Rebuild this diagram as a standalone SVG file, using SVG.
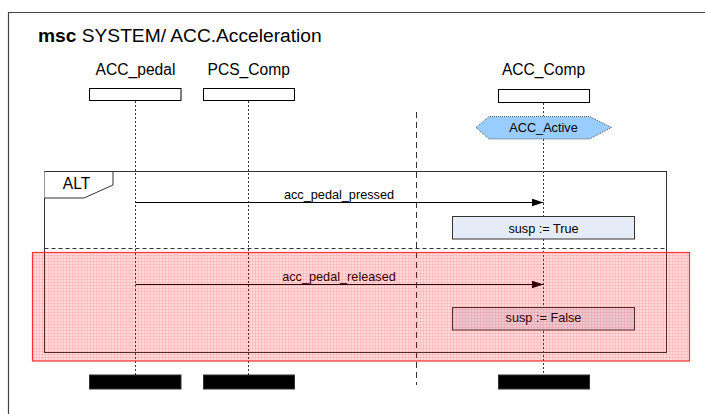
<svg xmlns="http://www.w3.org/2000/svg" width="705" height="414" viewBox="0 0 705 414">
<style>
text{font-family:"Liberation Sans",Arial,sans-serif;fill:#000}
.lbl{font-size:15.6px;text-anchor:middle}
.msg{font-size:12.7px;text-anchor:middle}
.head{fill:#fff;stroke:#000;stroke-width:1}
.foot{fill:#000;stroke:#333;stroke-width:1}
.life{stroke:#333;stroke-width:1;stroke-dasharray:2,2;fill:none}
.arr{stroke:#000;stroke-width:1;fill:none;marker-end:url(#ah)}
.act{fill:#e6ecf7;stroke:#333;stroke-width:1}
</style>
<defs>
<marker id="ah" viewBox="0 0 12 8" refX="12" refY="4" markerWidth="12" markerHeight="8" markerUnits="userSpaceOnUse" orient="auto">
<path d="M0,0 L12,4 L0,8 Z" fill="#000"/>
</marker>
<pattern id="chk" width="3" height="3" patternUnits="userSpaceOnUse">
<rect width="3" height="3" fill="#ff0000" fill-opacity="0.15"/>
<rect width="3" height="1" fill="#ff0000" fill-opacity="0.1"/>
<rect width="1" height="3" fill="#ff0000" fill-opacity="0.1"/>
</pattern>
</defs>
<rect width="705" height="414" fill="#fff"/>
<g id="frame">
<path d="M8.5,420 L8.5,12.5 L710,12.5" fill="none" stroke="#444" stroke-width="1.2"/>
<text x="38" y="41.5" style="font-size:19.2px"><tspan font-weight="bold">msc</tspan> SYSTEM/ ACC.Acceleration</text>
</g>
<g id="sep">
<line x1="416.5" y1="112" x2="416.5" y2="385" stroke="#333" stroke-width="1" stroke-dasharray="6,4"/>
</g>
<g id="alt">
<rect x="44.5" y="171.5" width="622" height="181" fill="none" stroke="#333" stroke-width="1"/>
<path d="M44.5,171.5 L113,171.5 L113,185 L84,198 L44.5,198" fill="#fff" stroke="#333" stroke-width="1"/>
<text x="76.5" y="188.5" style="font-size:15.6px;text-anchor:middle">ALT</text>
<line x1="44.5" y1="248.5" x2="666.5" y2="248.5" stroke="#333" stroke-width="1" stroke-dasharray="4,3"/>
</g>
<g id="ACC_pedal">
<text class="lbl" x="135.5" y="75.3">ACC_pedal</text>
<rect class="head" x="89.5" y="88.5" width="91.5" height="12"/>
<line class="life" x1="135.5" y1="101" x2="135.5" y2="375"/>
<rect class="foot" x="89.5" y="375" width="91.5" height="14"/>
</g>
<g id="PCS_Comp">
<text class="lbl" x="248.7" y="75.3">PCS_Comp</text>
<rect class="head" x="203.5" y="88.5" width="91" height="12"/>
<line class="life" x1="248.5" y1="101" x2="248.5" y2="375"/>
<rect class="foot" x="203.5" y="375" width="91" height="14"/>
</g>
<g id="ACC_Comp">
<text class="lbl" x="543.5" y="75.3">ACC_Comp</text>
<rect class="head" x="498.5" y="89.5" width="91" height="13"/>
<line class="life" x1="543.5" y1="103" x2="543.5" y2="116"/>
<line class="life" x1="543.5" y1="139" x2="543.5" y2="375"/>
<rect class="foot" x="498.5" y="375" width="91" height="14"/>
</g>
<g id="ACC_Active">
<path d="M476,127.5 L489,116.5 L589.5,116.5 L611.5,127.5 L589.5,139 L489,139 Z" fill="#99ccff" stroke="#555" stroke-width="1" stroke-dasharray="1,1"/>
<text x="543.5" y="132.3" style="font-size:12.7px;text-anchor:middle">ACC_Active</text>
</g>
<g id="connectors">
<line class="arr" x1="135.5" y1="202.5" x2="543.5" y2="202.5"/>
<text class="msg" x="339" y="199">acc_pedal_pressed</text>
<line class="arr" x1="135.5" y1="284.5" x2="543.5" y2="284.5"/>
<text class="msg" x="339" y="281">acc_pedal_released</text>
</g>
<g id="susp_true">
<rect class="act" x="452.5" y="216.5" width="182" height="22.5"/>
<text x="543.5" y="232.5" style="font-size:12.7px;text-anchor:middle">susp := True</text>
</g>
<g id="susp_false">
<rect class="act" x="452.5" y="307.5" width="182" height="22.5"/>
<text x="543.5" y="322.3" style="font-size:12.7px;text-anchor:middle">susp := False</text>
</g>
<g id="highlight">
<rect x="32.5" y="252.5" width="657" height="108.5" fill="url(#chk)" stroke="#ff3333" stroke-width="1.2"/>
</g>
</svg>
